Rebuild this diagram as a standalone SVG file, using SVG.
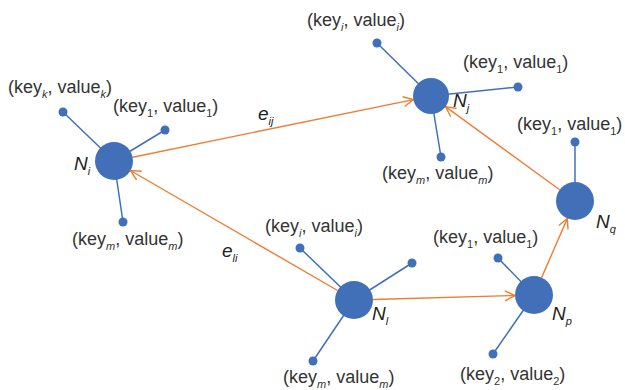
<svg xmlns="http://www.w3.org/2000/svg" width="625" height="390" viewBox="0 0 625 390">
  <style>
    .bg { fill: #ffffff; }
    .node { fill: #4170B8; }
    .dot { fill: #4170B8; }
    .spoke { stroke: #4170B8; stroke-width: 1.5; fill: none; }
    .edge { stroke: #ED7D31; stroke-width: 1.4; fill: none; marker-end: url(#arrow); }
    .kv { font-family: "Liberation Sans", Arial, sans-serif; font-size: 18px; fill: #333333; }
    .nm { font-family: "Liberation Sans", Arial, sans-serif; font-size: 19px; font-style: italic; fill: #222222; }
    .sub { font-size: 11px; }
    .it { font-style: italic; }
  </style>
  <defs>
    <marker id="arrow" markerUnits="userSpaceOnUse" markerWidth="14" markerHeight="14" viewBox="-12 -7 14 14" refX="0" refY="0" orient="auto">
      <path d="M-10,-5 L0,0 L-10,5" stroke="#ED7D31" stroke-width="1.4" fill="none"/>
    </marker>
  </defs>
  <rect class="bg" width="625" height="390"/>

  <!-- directed edges between entities -->
  <g id="edges">
    <line class="edge" x1="132.6" y1="157.2" x2="413.4" y2="99.6"/>
    <line class="edge" x1="337.6" y1="290.5" x2="130.4" y2="170.5"/>
    <line class="edge" x1="373" y1="299.5" x2="515" y2="295.5"/>
    <line class="edge" x1="541.6" y1="277.6" x2="567.4" y2="218.4"/>
    <line class="edge" x1="559.6" y1="189.8" x2="445.5" y2="106.6"/>
    <text class="nm" x="258" y="120">e<tspan class="sub" dy="5">ij</tspan></text>
    <text class="nm" x="222" y="257">e<tspan class="sub" dy="5">li</tspan></text>
  </g>

  <g id="node-Ni">
    <line class="spoke" x1="114" y1="161" x2="63" y2="112"/>
    <line class="spoke" x1="114" y1="161" x2="165" y2="130"/>
    <line class="spoke" x1="114" y1="161" x2="123" y2="222"/>
    <circle class="node" cx="114" cy="161" r="19"/>
    <circle class="dot" cx="63" cy="112" r="4.5"/>
    <circle class="dot" cx="165" cy="130" r="4.5"/>
    <circle class="dot" cx="123" cy="222" r="4.5"/>
    <text class="nm" x="74" y="170">N<tspan class="sub" dy="5">i</tspan></text>
    <text class="kv" x="8" y="93">(key<tspan class="sub it" dy="5">k</tspan><tspan dy="-5">, value</tspan><tspan class="sub it" dy="5">k</tspan><tspan dy="-5">)</tspan></text>
    <text class="kv" x="113" y="112">(key<tspan class="sub" dy="5">1</tspan><tspan dy="-5">, value</tspan><tspan class="sub" dy="5">1</tspan><tspan dy="-5">)</tspan></text>
    <text class="kv" x="72" y="245">(key<tspan class="sub it" dy="5">m</tspan><tspan dy="-5">, value</tspan><tspan class="sub it" dy="5">m</tspan><tspan dy="-5">)</tspan></text>
  </g>

  <g id="node-Nj">
    <line class="spoke" x1="431" y1="96" x2="377" y2="43"/>
    <line class="spoke" x1="431" y1="96" x2="518" y2="87"/>
    <line class="spoke" x1="431" y1="96" x2="441" y2="157"/>
    <circle class="node" cx="431" cy="96" r="18"/>
    <circle class="dot" cx="377" cy="43" r="4.5"/>
    <circle class="dot" cx="518" cy="87" r="4.5"/>
    <circle class="dot" cx="441" cy="157" r="4.5"/>
    <text class="nm" x="453" y="107">N<tspan class="sub" dy="5">j</tspan></text>
    <text class="kv" x="307" y="26">(key<tspan class="sub it" dy="5">i</tspan><tspan dy="-5">, value</tspan><tspan class="sub it" dy="5">i</tspan><tspan dy="-5">)</tspan></text>
    <text class="kv" x="463" y="68">(key<tspan class="sub" dy="5">1</tspan><tspan dy="-5">, value</tspan><tspan class="sub" dy="5">1</tspan><tspan dy="-5">)</tspan></text>
    <text class="kv" x="382" y="179">(key<tspan class="sub it" dy="5">m</tspan><tspan dy="-5">, value</tspan><tspan class="sub it" dy="5">m</tspan><tspan dy="-5">)</tspan></text>
  </g>

  <g id="node-Nq">
    <line class="spoke" x1="575" y1="201" x2="575" y2="142"/>
    <circle class="node" cx="575" cy="201" r="19"/>
    <circle class="dot" cx="575" cy="142" r="4.5"/>
    <text class="nm" x="596" y="228">N<tspan class="sub" dy="5">q</tspan></text>
    <text class="kv" x="517" y="130">(key<tspan class="sub" dy="5">1</tspan><tspan dy="-5">, value</tspan><tspan class="sub" dy="5">1</tspan><tspan dy="-5">)</tspan></text>
  </g>

  <g id="node-Nl">
    <line class="spoke" x1="354" y1="300" x2="300" y2="248"/>
    <line class="spoke" x1="354" y1="300" x2="412" y2="263"/>
    <line class="spoke" x1="354" y1="300" x2="313" y2="361"/>
    <circle class="node" cx="354" cy="300" r="19"/>
    <circle class="dot" cx="300" cy="248" r="4.5"/>
    <circle class="dot" cx="412" cy="263" r="4.5"/>
    <circle class="dot" cx="313" cy="361" r="4.5"/>
    <text class="nm" x="372" y="320">N<tspan class="sub" dy="5">l</tspan></text>
    <text class="kv" x="265" y="232">(key<tspan class="sub it" dy="5">i</tspan><tspan dy="-5">, value</tspan><tspan class="sub it" dy="5">i</tspan><tspan dy="-5">)</tspan></text>
    <text class="kv" x="283" y="383">(key<tspan class="sub it" dy="5">m</tspan><tspan dy="-5">, value</tspan><tspan class="sub it" dy="5">m</tspan><tspan dy="-5">)</tspan></text>
  </g>

  <g id="node-Np">
    <line class="spoke" x1="534" y1="295" x2="498" y2="258"/>
    <line class="spoke" x1="534" y1="295" x2="493" y2="354"/>
    <circle class="node" cx="534" cy="295" r="19"/>
    <circle class="dot" cx="498" cy="258" r="4.5"/>
    <circle class="dot" cx="493" cy="354" r="4.5"/>
    <text class="nm" x="552" y="320">N<tspan class="sub" dy="5">p</tspan></text>
    <text class="kv" x="433" y="243">(key<tspan class="sub" dy="5">1</tspan><tspan dy="-5">, value</tspan><tspan class="sub" dy="5">1</tspan><tspan dy="-5">)</tspan></text>
    <text class="kv" x="460" y="380">(key<tspan class="sub" dy="5">2</tspan><tspan dy="-5">, value</tspan><tspan class="sub" dy="5">2</tspan><tspan dy="-5">)</tspan></text>
  </g>
</svg>
